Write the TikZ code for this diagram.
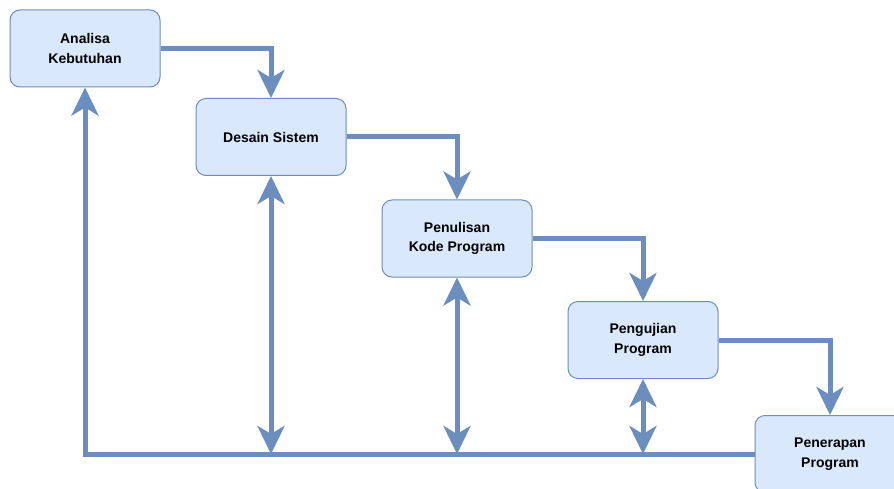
\documentclass[tikz,border=0pt]{standalone}
\usepackage{fontspec}
\setmainfont{Liberation Sans}
\usetikzlibrary{arrows.meta}

\definecolor{stageline}{HTML}{6C8EBF}
\definecolor{stagefill}{HTML}{DAE8FC}

\tikzset{
  stage/.style={draw=stageline, fill=stagefill, line width=1pt, rounded corners=10pt,
    minimum width=150pt, minimum height=77pt, inner sep=0pt, align=center,
    font=\fontsize{14}{19.5}\selectfont\bfseries},
  flow/.style={draw=stageline, line width=5pt,
    -{Stealth[length=28pt,width=27pt,inset=8pt]}},
  twoway/.style={draw=stageline, line width=5pt,
    {Stealth[length=28pt,width=27pt,inset=8pt]}-{Stealth[length=28pt,width=27pt,inset=8pt]}},
}

\begin{document}
\begin{tikzpicture}[x=1pt,y=-1pt]

\useasboundingbox (0,0) rectangle (894,489);

% 1. The five stages of the waterfall
\node[stage] (analisa) at (85,48.5) {Analisa\\Kebutuhan};
\node[stage] (desain) at (271,137) {Desain Sistem};
\node[stage] (penulisan) at (457,238.5) {Penulisan\\Kode Program};
\node[stage] (pengujian) at (643,340) {Pengujian\\Program};
\node[stage] (penerapan) at (830,454) {Penerapan\\Program};

% 2. Points on the feedback line along the bottom
\coordinate (back) at (analisa.south |- penerapan.west);
\coordinate (jd) at (desain.south |- penerapan.west);
\coordinate (jk) at (penulisan.south |- penerapan.west);
\coordinate (jp) at (pengujian.south |- penerapan.west);

% 3. Steps down from one stage to the next
\draw[flow] (analisa.east) -| (desain.north);
\draw[flow] (desain.east) -| (penulisan.north);
\draw[flow] (penulisan.east) -| (pengujian.north);
\draw[flow] (pengujian.east) -| (penerapan.north);

% 4. Feedback line back to the first stage
\draw[flow] (penerapan.west) -- (back) -- (analisa.south);

% 5. Two-way links between the line and the middle stages
\draw[twoway] (desain.south) -- (jd);
\draw[twoway] (penulisan.south) -- (jk);
\draw[twoway] (pengujian.south) -- (jp);

\end{tikzpicture}
\end{document}
